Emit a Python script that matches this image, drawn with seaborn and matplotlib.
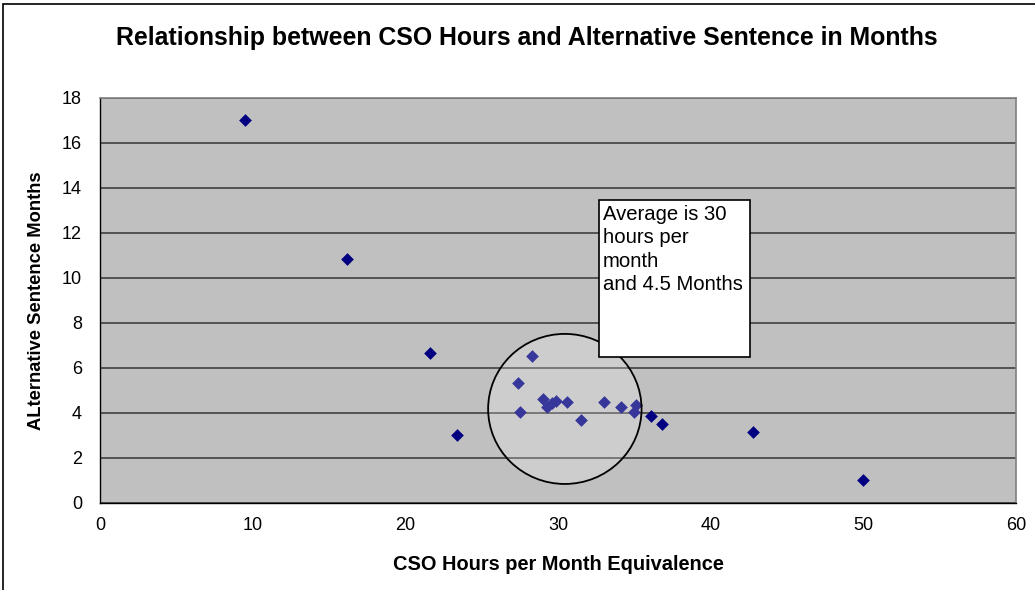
import matplotlib
matplotlib.use("Agg")
import matplotlib.pyplot as plt
from matplotlib.patches import Ellipse, Rectangle
import pandas as pd
import seaborn as sns

# values
cso_hours = [9.5, 16.2, 21.6, 23.4, 28.3, 27.4, 27.5, 29.0, 29.3, 29.6, 29.9,
             30.6, 31.5, 33.0, 34.1, 35.1, 35.0, 36.1, 36.8, 42.8, 50.0]
sentence_months = [17.0, 10.85, 6.65, 3.0, 6.55, 5.35, 4.05, 4.6, 4.25, 4.45, 4.55,
                   4.5, 3.7, 4.5, 4.25, 4.35, 4.05, 3.85, 3.5, 3.15, 1.0]
x_ticks = [0, 10, 20, 30, 40, 50, 60]
y_ticks = [0, 2, 4, 6, 8, 10, 12, 14, 16, 18]

df = pd.DataFrame({"hours": cso_hours, "months": sentence_months})

sns.set_style("white")
plt.rcParams["font.family"] = ["Liberation Sans", "DejaVu Sans"]
plt.rcParams.update({"text.color": "black", "axes.labelcolor": "black",
                     "xtick.color": "black", "ytick.color": "black"})

fig = plt.figure(figsize=(10.35, 5.9), dpi=100)
ax = fig.add_axes([0.0966, 0.1475, 0.885, 0.6864])
ax.set_facecolor("#c0c0c0")

sns.scatterplot(data=df, x="hours", y="months", marker="D", s=42,
                color="#000080", edgecolor="#000080", linewidth=0, ax=ax, zorder=3)

# highlight circle round the average
ax.add_patch(Ellipse((30.45, 4.18), 10.05, 6.67, facecolor="white", alpha=0.22,
                     edgecolor="none", zorder=4))
ax.add_patch(Ellipse((30.45, 4.18), 10.05, 6.67, facecolor="none",
                     edgecolor="black", lw=1.3, zorder=5))

ax.set_xlim(0, 60)
ax.set_ylim(0, 18)
ax.set_xticks(x_ticks)
ax.set_yticks(y_ticks)
ax.grid(axis="y", color="#404040", lw=1.2)
ax.grid(axis="x", visible=False)
ax.set_axisbelow(True)
for side in ["top", "right"]:
    ax.spines[side].set_color("#808080")
    ax.spines[side].set_linewidth(1.2)
for side in ["left", "bottom"]:
    ax.spines[side].set_color("black")
    ax.spines[side].set_linewidth(1)
ax.tick_params(axis="both", direction="out", length=5, width=1, color="black",
               labelcolor="black", labelsize=13, pad=5)
ax.tick_params(axis="y", pad=8)

ax.set_xlabel("CSO Hours per Month Equivalence", fontsize=14.4, fontweight="bold", labelpad=15)
ax.set_ylabel("ALternative Sentence Months", fontsize=13.2, fontweight="bold", labelpad=12)

fig.text(0.509, 0.935, "Relationship between CSO Hours and Alternative Sentence in Months",
         ha="center", va="center", fontsize=17.9, fontweight="bold")

# annotation box
ax.add_patch(Rectangle((32.7, 6.5), 9.85, 6.95, facecolor="white", edgecolor="black",
                       lw=1.2, zorder=6))
ax.text(32.95, 13.25, "Average is 30\nhours per\nmonth\nand 4.5 Months",
        ha="left", va="top", fontsize=14.6, linespacing=1.3, zorder=7)

# outer chart border
fig.add_artist(Rectangle((3 / 1035, -0.01), 1.02, (590 - 4) / 590 + 0.01, transform=fig.transFigure,
                         fill=False, edgecolor="black", lw=1.2))

fig.savefig("out.png", dpi=100)
